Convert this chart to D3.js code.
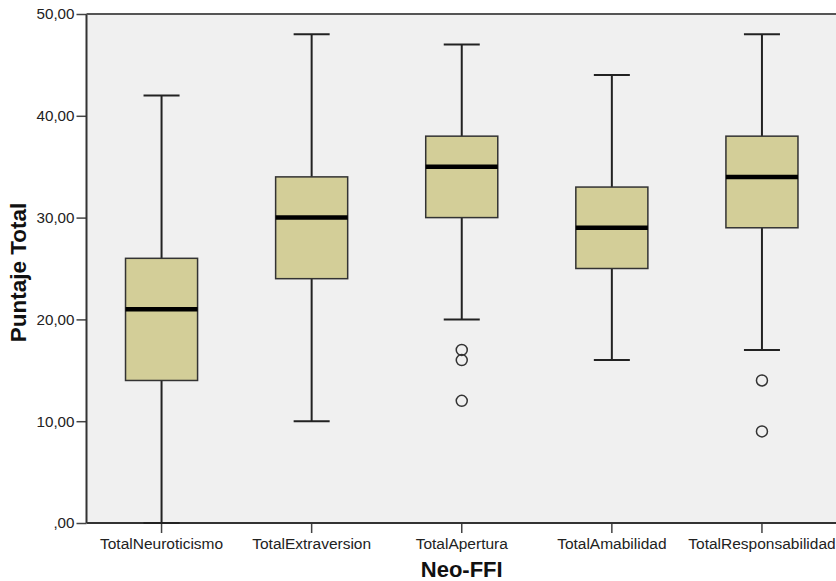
<!DOCTYPE html>
<html><head><meta charset="utf-8">
<script src="https://cdn.jsdelivr.net/npm/d3@7"></script>
<style>body{margin:0;background:#fff;} svg{display:block;font-family:"Liberation Sans",Arial,sans-serif;}</style>
</head><body>
<svg id="c" width="836" height="581"></svg>
<script>
const categories = ["TotalNeuroticismo","TotalExtraversion","TotalApertura","TotalAmabilidad","TotalResponsabilidad"];
const mins    = [0, 10, 20, 16, 17];
const q1s     = [14, 24, 30, 25, 29];
const medians = [21, 30, 35, 29, 34];
const q3s     = [26, 34, 38, 33, 38];
const maxs    = [42, 48, 47, 44, 48];
const outliers = [[], [], [17, 16, 12], [], [14, 9]];
const yTicks = [0, 10, 20, 30, 40, 50];
const yTitle = "Puntaje Total";
const xTitle = "Neo-FFI";

const svg = d3.select("#c");
const pL = 86.5, pR = 837, pT = 14, pB = 523;
const x = d3.scaleBand().domain(categories).range([pL, pR]);
const y = d3.scaleLinear().domain([0, 50]).range([pB, pT]);

svg.append("rect").attr("x", pL).attr("y", pT).attr("width", pR - pL).attr("height", pB - pT)
  .attr("fill", "#f0f0f0");

const fmt = v => v === 0 ? ",00" : v.toFixed(2).replace(".", ",");

const yAxis = svg.append("g").attr("transform", `translate(${pL},0)`)
  .call(d3.axisLeft(y).tickValues(yTicks).tickFormat(fmt).tickSize(10).tickPadding(2));
yAxis.select(".domain").remove();
yAxis.selectAll("line").attr("stroke", "#444").attr("stroke-width", 1.5);
yAxis.selectAll("text").attr("font-size", 15.2).attr("fill", "#222").attr("font-family", "Liberation Sans, Arial, sans-serif");

const xAxis = svg.append("g").attr("transform", `translate(0,${pB})`)
  .call(d3.axisBottom(x).tickSize(10).tickPadding(5));
xAxis.select(".domain").remove();
xAxis.selectAll("line").attr("stroke", "#444").attr("stroke-width", 1.5);
xAxis.selectAll("text").attr("font-size", 15.5).attr("fill", "#222").attr("font-family", "Liberation Sans, Arial, sans-serif");

svg.append("line").attr("x1", pL).attr("x2", pL).attr("y1", pT).attr("y2", pB).attr("stroke", "#333").attr("stroke-width", 2);
svg.append("line").attr("x1", pL).attr("x2", pR).attr("y1", pT).attr("y2", pT).attr("stroke", "#555").attr("stroke-width", 2);
svg.append("line").attr("x1", pL).attr("x2", pR).attr("y1", pB).attr("y2", pB).attr("stroke", "#333").attr("stroke-width", 2);

const boxW = x.bandwidth() * 0.48, capW = x.bandwidth() * 0.24;
categories.forEach((c, i) => {
  const cx = x(c) + x.bandwidth() / 2;
  const g = svg.append("g");
  g.append("line").attr("x1", cx).attr("x2", cx).attr("y1", y(maxs[i])).attr("y2", y(q3s[i])).attr("stroke", "#222").attr("stroke-width", 2);
  g.append("line").attr("x1", cx).attr("x2", cx).attr("y1", y(q1s[i])).attr("y2", y(mins[i])).attr("stroke", "#222").attr("stroke-width", 2);
  g.append("line").attr("x1", cx - capW / 2).attr("x2", cx + capW / 2).attr("y1", y(maxs[i])).attr("y2", y(maxs[i])).attr("stroke", "#222").attr("stroke-width", 2);
  g.append("line").attr("x1", cx - capW / 2).attr("x2", cx + capW / 2).attr("y1", y(mins[i])).attr("y2", y(mins[i])).attr("stroke", "#222").attr("stroke-width", 2);
  g.append("rect").attr("x", cx - boxW / 2).attr("width", boxW).attr("y", y(q3s[i])).attr("height", y(q1s[i]) - y(q3s[i]))
    .attr("fill", "#d3ce98").attr("stroke", "#333").attr("stroke-width", 1.5);
  g.append("line").attr("x1", cx - boxW / 2).attr("x2", cx + boxW / 2).attr("y1", y(medians[i])).attr("y2", y(medians[i])).attr("stroke", "#000").attr("stroke-width", 4.5);
  outliers[i].forEach(v => {
    g.append("circle").attr("cx", cx).attr("cy", y(v)).attr("r", 5.5).attr("fill", "none").attr("stroke", "#333").attr("stroke-width", 1.5);
  });
});

svg.append("text").attr("transform", `translate(26,${(pT + pB) / 2 + 4}) rotate(-90)`).attr("text-anchor", "middle")
  .attr("font-size", 22.5).attr("font-weight", "bold").attr("fill", "#111").text(yTitle);
svg.append("text").attr("x", (pL + pR) / 2).attr("y", 577).attr("text-anchor", "middle")
  .attr("font-size", 22).attr("font-weight", "bold").attr("fill", "#111").text(xTitle);
</script>
</body></html>
